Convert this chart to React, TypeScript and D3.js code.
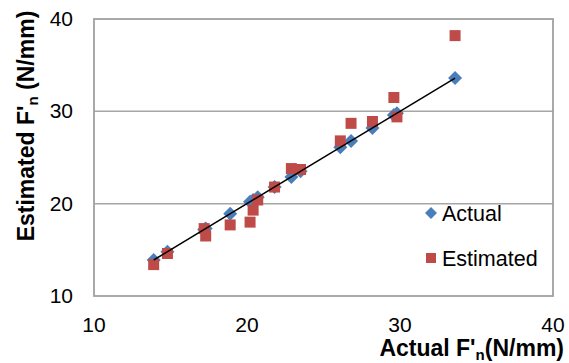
import React from 'react';
import * as d3 from 'd3';

const actual = [13.9, 14.8, 17.2, 17.3, 18.9, 20.2, 20.4, 20.7, 21.8, 22.9, 23.5, 26.1, 26.8, 28.2, 29.6, 29.8, 33.6];
const estimated = [13.4, 14.6, 17.3, 16.5, 17.7, 18.0, 19.3, 20.4, 21.8, 23.8, 23.7, 26.8, 28.7, 28.9, 31.5, 29.4, 38.2];
const ticks = [10, 20, 30, 40];
const legendItems = ['Actual', 'Estimated'];

const W = 569, H = 363;
const m = { left: 94, right: 16, top: 19, bottom: 67 };
const font = '"Liberation Sans", Arial, sans-serif';
const blue = '#4a7ebb', red = '#be4b48';

// diamond ~14px across, square ~11px side
const diamond = 'M0,-7L7,0L0,7L-7,0Z';
const square = 'M-5.5,-5.5H5.5V5.5H-5.5Z';

export default function App() {
  const x = d3.scaleLinear().domain([10, 40]).range([m.left, W - m.right]);
  const y = d3.scaleLinear().domain([10, 40]).range([H - m.bottom, m.top]);
  const lo = d3.min(actual)!, hi = d3.max(actual)!;
  const trend = d3.line<number>().x(d => x(d)).y(d => y(d))([lo, hi]);

  return (
    <svg width={W} height={H} style={{ position: 'absolute', left: 0, top: 0 }} fontFamily={font}>
      {ticks.slice(1, -1).map(t => (
        <line key={t} x1={x(10)} x2={x(40)} y1={y(t)} y2={y(t)} stroke="#a6a6a6" strokeWidth={1.5} />
      ))}
      <rect x={x(10)} y={y(40)} width={x(40) - x(10)} height={y(10) - y(40)} fill="none" stroke="#a0a0a0" strokeWidth={1.8} />
      {ticks.map(t => (
        <text key={'y' + t} x={73} y={y(t) + 7} textAnchor="end" fontSize={21}>{t}</text>
      ))}
      {ticks.map(t => (
        <text key={'x' + t} x={x(t)} y={332} textAnchor="middle" fontSize={21}>{t}</text>
      ))}
      {actual.map((a, i) => (
        <path key={'a' + i} d={diamond} transform={`translate(${x(a)},${y(a)})`} fill={blue} />
      ))}
      {estimated.map((e, i) => (
        <path key={'e' + i} d={square} transform={`translate(${x(actual[i])},${y(e)})`} fill={red} />
      ))}
      <path d={trend!} stroke="#000" strokeWidth={1.5} fill="none" />
      {legendItems.map((l, i) => (
        <g key={l} transform={`translate(431,${213 + i * 45})`}>
          <path d={i === 0 ? 'M0,-6L6,0L0,6L-6,0Z' : 'M-5,-5H5V5H-5Z'} fill={i === 0 ? blue : red} />
          <text x={11} y={7.5} fontSize={21.5}>{l}</text>
        </g>
      ))}
      <text x={564} y={356} textAnchor="end" fontSize={23} fontWeight="bold">
        Actual F'<tspan fontSize={15} dy={4}>n</tspan><tspan dy={-4}>(N/mm)</tspan>
      </text>
      <text transform="translate(34,126) rotate(-90)" textAnchor="middle" fontSize={23} fontWeight="bold">
        Estimated F'<tspan fontSize={15} dy={4}>n</tspan><tspan dy={-4}> (N/mm)</tspan>
      </text>
    </svg>
  );
}
